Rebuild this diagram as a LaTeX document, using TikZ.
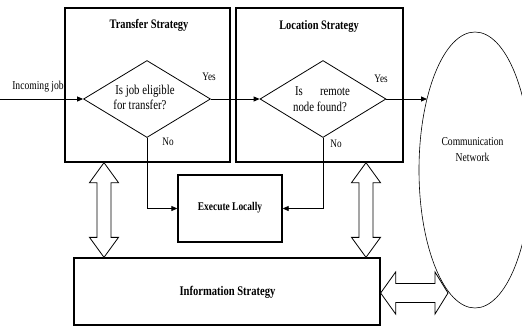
\documentclass[tikz,border=0pt]{standalone}
\usepackage{fontspec}
\setmainfont{Liberation Serif}[FakeStretch=0.8]
\usetikzlibrary{arrows.meta,shapes.geometric,calc}
\newcommand{\fsz}[1]{\fontsize{#1}{#1}\selectfont}
\begin{document}
\begin{tikzpicture}[x=1pt,y=-1pt,
  box/.style={draw,line width=1.3pt,inner sep=0pt},
  dia/.style={draw,diamond,line width=0.8pt,inner sep=0pt},
  txt/.style={inner sep=0pt,anchor=base},
  flow/.style={line width=0.8pt,-{Triangle[length=6pt,width=5pt]}},
  hollow/.style={draw,line width=0.8pt,fill=white}]
\useasboundingbox (0,0) rectangle (522,327);
\clip (0,0) rectangle (522,327);
% boxes
\node[box,minimum width=165,minimum height=154] (tbox) at (147.5,85) {};
\node[box,minimum width=167,minimum height=154] (lbox) at (319.5,85) {};
\node[box,minimum width=104,minimum height=67] (exec) at (230,208.5) {};
\node[box,minimum width=306,minimum height=67] (info) at (227,291.5) {};
\node[txt,font=\bfseries\fsz{13}] (ttitle) at (149,28.5) {Transfer Strategy};
\node[txt,font=\bfseries\fsz{13}] (ltitle) at (319,29) {Location Strategy};
\node[txt,font=\bfseries\fsz{11.8}] (exectxt) at (230,210) {Execute Locally};
\node[txt,font=\bfseries\fsz{13.2}] (infotxt) at (227.5,295) {Information Strategy};
% diamonds
\node[dia,minimum width=127,minimum height=77] (d1) at (147,99) {};
\node[dia,minimum width=126,minimum height=77] (d2) at (323,99) {};
\node[txt,font=\fsz{13.5}] (d1a) at (145,94.7) {Is job eligible};
\node[txt,font=\fsz{13.5}] (d1b) at (140,109.7) {for transfer?};
\node[txt,font=\fsz{13.5}] (d2a) at (322.5,95) {\makebox[55pt]{Is\hfill remote}};
\node[txt,font=\fsz{13.5}] (d2b) at (320,111) {node found?};
% labels
\coordinate (in) at (0,99);
\node[txt,font=\fsz{12}] (inlbl) at (38,89) {Incoming job};
\node[txt,font=\fsz{11.5}] (yes1) at (209,80) {Yes};
\node[txt,font=\fsz{11.5}] (yes2) at (381,82.5) {Yes};
\node[txt,font=\fsz{11.5}] (no1) at (168,145.5) {No};
\node[txt,font=\fsz{11.5}] (no2) at (336,147) {No};
% flows
\draw[flow] (in) -- (d1.west);
\draw[flow] (d1.east) -- (d2.west);
\draw[flow] (d2.east) -- (427,99);
\draw[flow] (d1.south) |- (exec.west);
\draw[flow] (d2.south) |- (exec.east);
% hollow double arrows (vertical)
\coordinate (a1) at (104,0 |- tbox.south);
\coordinate (b1) at (104,0 |- info.north);
\coordinate (a2) at (366,0 |- lbox.south);
\coordinate (b2) at (366,0 |- info.north);
\foreach \a/\b in {a1/b1,a2/b2}{
  \draw[hollow] let \p1=(\a), \p2=(\b) in
    (\x1,\y1) -- (\x1+14.5pt,\y1-20pt) -- (\x1+7pt,\y1-20pt) -- (\x1+7pt,\y2+20pt)
    -- (\x1+14.5pt,\y2+20pt) -- (\x2,\y2) -- (\x1-14.5pt,\y2+20pt) -- (\x1-7pt,\y2+20pt)
    -- (\x1-7pt,\y1-20pt) -- (\x1-14.5pt,\y1-20pt) -- cycle;
}
% horizontal hollow double arrow
\coordinate (h1) at (info.east |- 0,293);
\coordinate (h2) at (448,293);
\draw[hollow] let \p1=(h1), \p2=(h2) in
  (\x1,\y1) -- (\x1+15pt,\y1+21pt) -- (\x1+15pt,\y1+9.5pt) -- (\x2-13pt,\y1+9.5pt)
  -- (\x2-13pt,\y1+21pt) -- (\x2,\y2) -- (\x2-13pt,\y1-21pt) -- (\x2-13pt,\y1-9.5pt)
  -- (\x1+15pt,\y1-9.5pt) -- (\x1+15pt,\y1-21pt) -- cycle;
% ellipse
\node[draw,ellipse,line width=0.6pt,minimum width=112,minimum height=276,inner sep=0pt] (net) at (475,170) {};
\node[txt,font=\fsz{12}] (nettxt1) at (472.5,145) {Communication};
\node[txt,font=\fsz{12}] (nettxt2) at (472.5,161) {Network};
\end{tikzpicture}
\end{document}
